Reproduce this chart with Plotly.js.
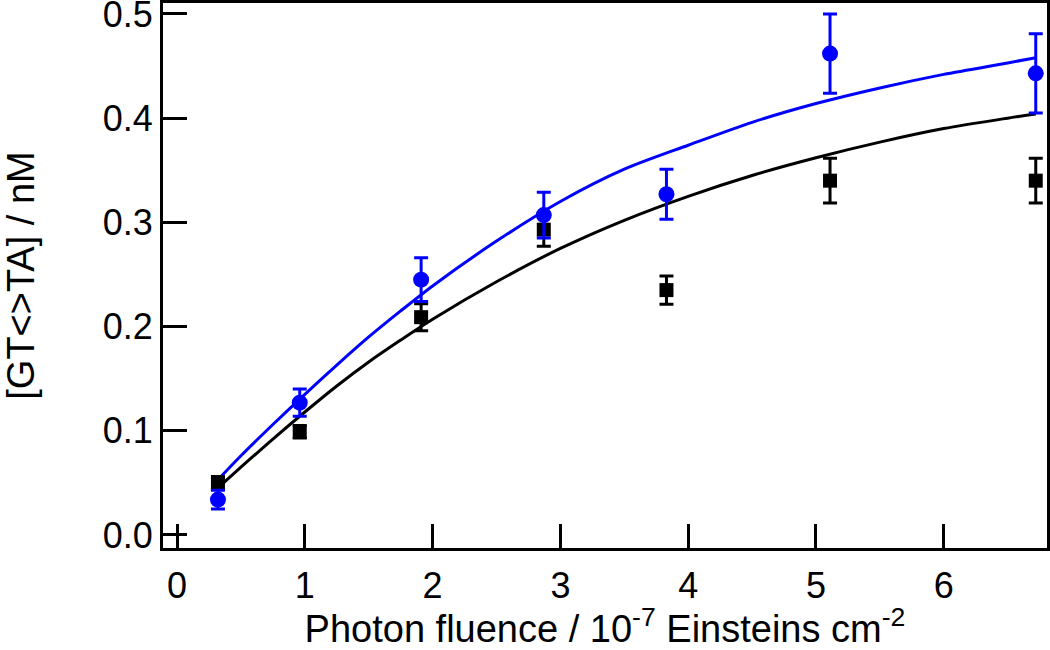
<!DOCTYPE html>
<html>
<head>
<meta charset="utf-8">
<script src="https://cdn.plot.ly/plotly-3.0.1.min.js"></script>
<style>
  html, body { margin: 0; padding: 0; background: #fff; }
  #myPlot { width: 1050px; height: 650px; }
</style>
</head>
<body>
<div id="myPlot"></div>
<script>
// Measured points (photon fluence, 10^-7 Einsteins cm^-2)
var fluence = [0.32, 0.96, 1.91, 2.87, 3.83, 5.11, 6.72];

// black squares
var blackY = [0.050, 0.099, 0.209, 0.293, 0.235, 0.340, 0.340];
var blackErr = [0.006, 0.006, 0.013, 0.016, 0.0135, 0.0215, 0.0215];

// blue circles
var blueY = [0.034, 0.127, 0.245, 0.307, 0.327, 0.462, 0.443];
var blueErr = [0.009, 0.013, 0.021, 0.022, 0.024, 0.038, 0.038];

// fitted curves
var fitX = [0.32, 0.5, 0.75, 1.0, 1.25, 1.5, 1.75, 2.0, 2.5, 3.0, 3.5, 4.0, 4.5, 5.0, 5.5, 6.0, 6.5, 6.72];
var blackFit = [0.045, 0.065, 0.092, 0.118, 0.143, 0.166, 0.187, 0.207, 0.243, 0.275, 0.302, 0.325, 0.345, 0.362, 0.377, 0.390, 0.400, 0.404];
var blueFit = [0.053, 0.076, 0.106, 0.135, 0.163, 0.190, 0.215, 0.239, 0.282, 0.320, 0.351, 0.374, 0.396, 0.414, 0.429, 0.442, 0.453, 0.458];

var blue = "rgb(0,0,255)";
var black = "#000000";

var data = [
    {
        x: fitX, y: blackFit, mode: "lines",
        line: { color: black, width: 3, shape: "spline", smoothing: 0.8 }
    },
    {
        x: fitX, y: blueFit, mode: "lines",
        line: { color: blue, width: 3, shape: "spline", smoothing: 0.8 }
    },
    {
        x: fluence, y: blackY, mode: "markers",
        marker: { symbol: "square", size: 14, color: black },
        error_y: { type: "data", array: blackErr, visible: true, color: black, thickness: 3, width: 7 }
    },
    {
        x: fluence, y: blueY, mode: "markers",
        marker: { symbol: "circle", size: 16, color: blue },
        error_y: { type: "data", array: blueErr, visible: true, color: blue, thickness: 3, width: 7 }
    }
];

var tickFont = { family: "Liberation Sans, Arial, sans-serif", size: 36, color: "#000" };
var titleFont = { family: "Liberation Sans, Arial, sans-serif", size: 38, color: "#000" };

var layout = {
    width: 1050,
    height: 650,
    showlegend: false,
    paper_bgcolor: "#fff",
    plot_bgcolor: "#fff",
    margin: { l: 163, r: 3, t: 3, b: 102 },
    font: tickFont,
    xaxis: {
        range: [-0.11, 6.808],
        tickmode: "linear", tick0: 0, dtick: 1,
        ticks: "inside", ticklen: 24, tickwidth: 3, tickcolor: "#000",
        ticklabelstandoff: 4,
        showline: true, linewidth: 3, linecolor: "#000", mirror: true,
        showgrid: false, zeroline: false,
        tickfont: tickFont,
        title: {
            text: "Photon fluence / 10<sup>-7</sup> Einsteins cm<sup>-2</sup>",
            font: titleFont, standoff: 2
        }
    },
    yaxis: {
        range: [-0.0125, 0.5105],
        tickmode: "linear", tick0: 0, dtick: 0.1, tickformat: ".1f",
        ticks: "inside", ticklen: 24, tickwidth: 3, tickcolor: "#000",
        ticklabeloverflow: "allow",
        showline: true, linewidth: 3, linecolor: "#000", mirror: true,
        showgrid: false, zeroline: false,
        tickfont: tickFont,
        title: { text: "[GT<>TA] / nM", font: titleFont, standoff: 62 }
    }
};

Plotly.newPlot("myPlot", data, layout, { displayModeBar: false, staticPlot: true });
</script>
</body>
</html>
